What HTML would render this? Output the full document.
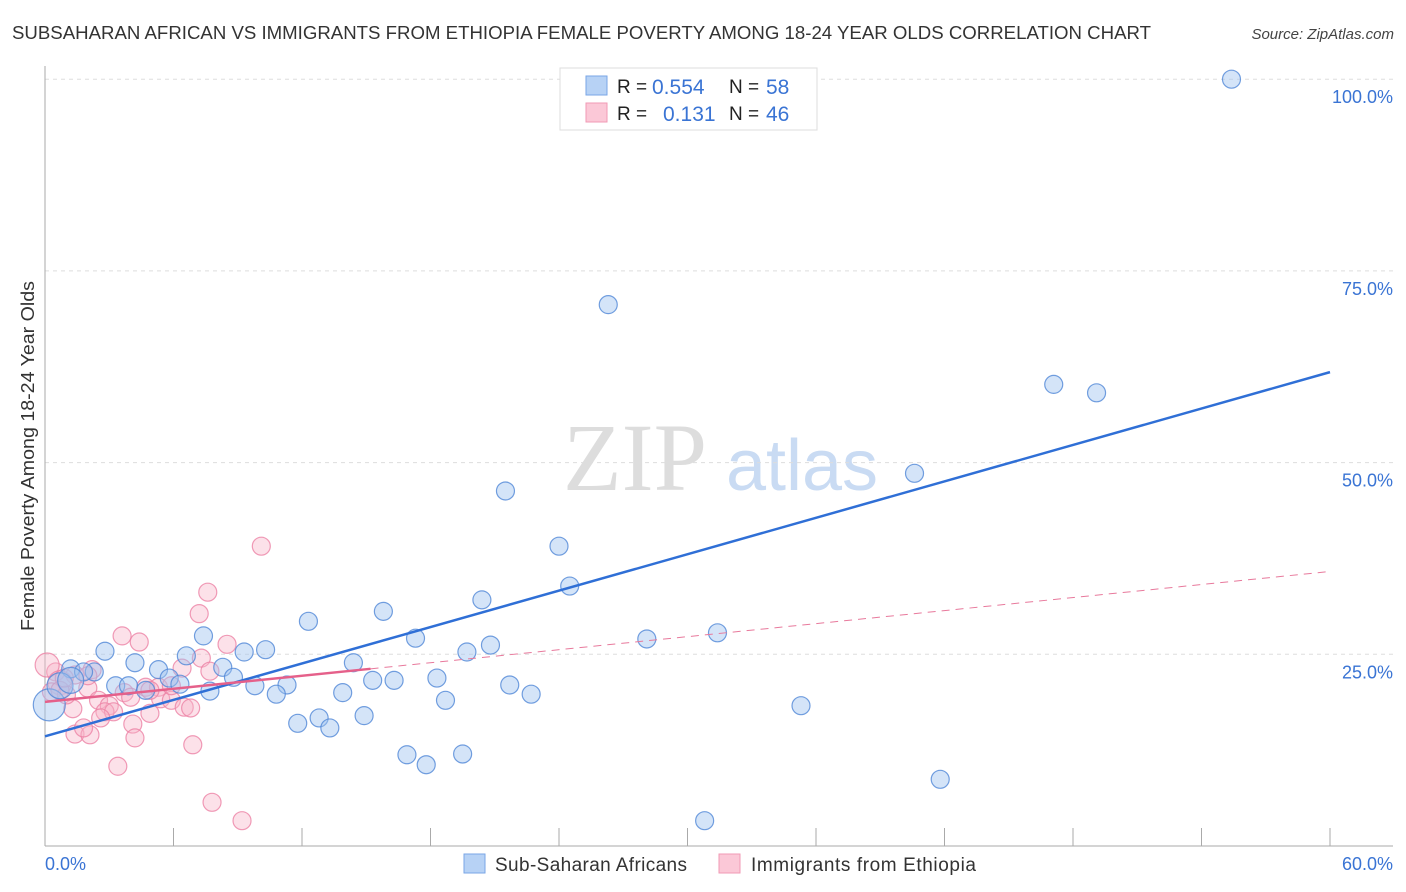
<!DOCTYPE html>
<html><head><meta charset="utf-8"><style>
body{margin:0;background:#fff;font-family:"Liberation Sans",sans-serif;}
svg{display:block}
</style></head><body>
<svg id="chart" width="1406" height="892" xmlns="http://www.w3.org/2000/svg">
<text x="12" y="39" font-size="18" fill="#333" textLength="1139" lengthAdjust="spacingAndGlyphs">SUBSAHARAN AFRICAN VS IMMIGRANTS FROM ETHIOPIA FEMALE POVERTY AMONG 18-24 YEAR OLDS CORRELATION CHART</text>
<text x="1394" y="39" font-size="15" fill="#444" font-style="italic" text-anchor="end">Source: ZipAtlas.com</text>
<g>
<text x="635" y="490" font-size="96" fill="#ddd" font-family="Liberation Serif,serif" text-anchor="middle">ZIP</text>
<text x="802" y="490" font-size="72" fill="#c9dbf3" text-anchor="middle">atlas</text>
</g>
<text transform="translate(34,456) rotate(-90)" font-size="18" fill="#333" text-anchor="middle" textLength="350" lengthAdjust="spacingAndGlyphs">Female Poverty Among 18-24 Year Olds</text>
<g id="grid"></g><g id="axes"></g><g id="pts"></g><g id="lines"></g>
<g>
<rect x="560" y="68" width="257" height="62" fill="#fff" stroke="#ddd"/>
<rect x="586" y="76" width="21" height="19" fill="#b7d2f5" stroke="#7aa6e6"/>
<rect x="586" y="103" width="21" height="19" fill="#fbc8d7" stroke="#f09ab4"/>
<text font-size="19" fill="#222"><tspan x="617" y="93">R = </tspan><tspan x="617" y="120">R = </tspan><tspan x="729" y="93">N = </tspan><tspan x="729" y="120">N = </tspan></text>
<text font-size="21" fill="#3a74d4"><tspan x="652" y="94">0.554</tspan><tspan x="663" y="121">0.131</tspan><tspan x="766" y="94">58</tspan><tspan x="766" y="121">46</tspan></text>
</g>
<g>
<rect x="464" y="854" width="21" height="19" fill="#b7d2f5" stroke="#7aa6e6"/>
<text x="495" y="871" font-size="19" fill="#333" textLength="192">Sub-Saharan Africans</text>
<rect x="719" y="854" width="21" height="19" fill="#fbc8d7" stroke="#f09ab4"/>
<text x="751" y="871" font-size="19" fill="#333" textLength="225">Immigrants from Ethiopia</text>
</g>
</svg>
<script>
const blueX=[55.4,26.3,47.1,49.1,40.6,21.5,24.0,24.5,20.4,15.8,12.3,31.4,28.1,17.3,20.8,19.7,2.8,7.4,10.3,9.3,6.6,4.2,14.4,8.3,5.3,2.3,1.2,1.8,8.8,15.3,16.3,18.3,5.8,6.3,11.3,9.8,3.3,3.9,4.7,7.7,10.8,13.9,21.7,22.7,18.7,35.3,14.9,12.8,11.8,13.3,16.9,19.5,17.8,41.8,30.8,0.2,0.7,1.2];
const blueY=[100.0,70.6,60.2,59.1,48.6,46.3,39.1,33.9,32.1,30.6,29.3,27.8,27.0,27.1,26.2,25.3,25.4,27.4,25.6,25.3,24.8,23.9,23.9,23.3,23.0,22.7,23.1,22.7,22.0,21.6,21.6,21.9,21.9,21.1,21.0,20.9,20.9,20.9,20.3,20.2,19.8,20.0,21.0,19.8,19.0,18.3,17.0,16.7,16.0,15.4,11.9,12.0,10.6,8.7,3.3,18.4,20.9,21.6];
const blueBig=[55,56,57];
const pinkX=[10.1,7.6,7.2,3.6,4.4,8.5,7.3,6.4,7.7,2.2,1.4,0.5,0.1,0.7,2.0,4.7,5.3,3.7,2.5,3.0,4.0,5.4,5.9,6.5,6.8,4.9,1.3,2.8,4.1,3.2,4.2,1.4,2.1,1.8,6.9,3.4,7.8,9.2,0.3,1.0,5.9,2.6,0.7,0.9,4.9,2.0];
const pinkY=[39.1,33.1,30.3,27.4,26.6,26.3,24.5,23.2,22.8,23.0,22.3,22.7,23.6,21.3,20.6,20.7,20.7,20.0,19.0,18.3,19.4,19.2,19.0,18.1,18.0,17.3,17.9,17.5,15.9,17.5,14.1,14.6,14.5,15.4,13.2,10.4,5.7,3.3,20.1,19.7,20.9,16.7,20.3,21.9,20.3,22.2];
const pinkBig=[12,13];
const yTicks=[25,50,75,100];
const xTickVals=[0,6,12,18,24,30,36,42,48,54,60];
const blueTrend=[14.3,61.8];
const pinkTrend=[18.8,35.8];
const pinkSolidEnd=15.2;
const X=v=>45+v*1285/60, Y=v=>846-v*7.668;
const NS='http://www.w3.org/2000/svg';
function mk(tag,attrs,parent){const e=document.createElementNS(NS,tag);for(const k in attrs)e.setAttribute(k,attrs[k]);document.getElementById(parent).appendChild(e);return e;}
yTicks.forEach(t=>{
 const g=mk('line',{x1:45,x2:1393,y1:Y(t),y2:Y(t),stroke:'#ddd','stroke-dasharray':'4,4'},'grid');
 
 
 const l=mk('text',{x:1393,y:Y(t)+24,'font-size':18,fill:'#3a74d4','text-anchor':'end'},'grid');
 l.textContent=t.toFixed(1)+'%';
 
 
});
const ax=mk('line',{x1:45,x2:45,y1:66,y2:846,stroke:'#aaa'},'axes');


const bx=mk('line',{x1:45,x2:1393,y1:846,y2:846,stroke:'#aaa'},'axes');


xTickVals.forEach(t=>{
 const tk=mk('line',{x1:X(t),x2:X(t),y1:828,y2:846,stroke:'#aaa'},'axes');
 
 
});
const x0=mk('text',{x:45,y:870,'font-size':18,fill:'#3a74d4'},'axes');x0.textContent=xTickVals[0].toFixed(1)+'%';


const x1=mk('text',{x:1393,y:870,'font-size':18,fill:'#3a74d4','text-anchor':'end'},'axes');x1.textContent=xTickVals[xTickVals.length-1].toFixed(1)+'%';


pinkX.forEach((v,i)=>{
 const c=mk('circle',{cx:X(v),cy:Y(pinkY[i]),r:pinkBig.includes(i)?12:9,fill:'rgba(248,180,200,0.4)',stroke:'rgba(236,130,165,0.8)','stroke-width':1.2},'pts');
 
 
});
blueX.forEach((v,i)=>{
 const c=mk('circle',{cx:X(v),cy:Y(blueY[i]),r:blueBig.includes(i)?(i===55?16:13):9,fill:'rgba(160,195,240,0.45)',stroke:'rgba(80,135,215,0.8)','stroke-width':1.2},'pts');
 
 
});
const bl=mk('line',{x1:X(0),y1:Y(blueTrend[0]),x2:X(60),y2:Y(blueTrend[1]),stroke:'#2f6fd6','stroke-width':2.5},'lines');


const ps=pinkTrend[0]+(pinkTrend[1]-pinkTrend[0])*pinkSolidEnd/60;
const pd=mk('line',{x1:X(pinkSolidEnd),y1:Y(ps),x2:X(59.8),y2:Y(pinkTrend[0]+(pinkTrend[1]-pinkTrend[0])*59.8/60),stroke:'#e8799c','stroke-width':1,'stroke-dasharray':'8,6'},'lines');


const pl=mk('line',{x1:X(0),y1:Y(pinkTrend[0]),x2:X(pinkSolidEnd),y2:Y(ps),stroke:'#e5608a','stroke-width':2.5},'lines');


</script>
</body></html>
